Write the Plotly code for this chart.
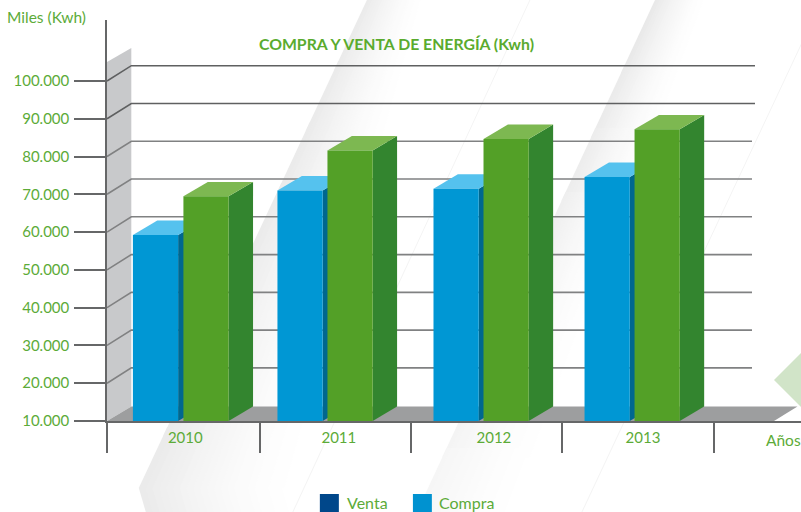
import plotly.graph_objects as go

# ---- data ----
years = ["2010", "2011", "2012", "2013"]
compra = [59230, 71010, 71490, 74580]
venta = [69480, 81600, 84640, 87210]
y_ticks = [10000, 20000, 30000, 40000, 50000, 60000, 70000, 80000, 90000, 100000]
grid_values = y_ticks[1:]

# ---- layout constants (x axis runs in canvas pixels) ----
W, H = 801, 512
AX_X, AX_Y, TOP = 107.2, 421, 20
PX_PER_UNIT = 37.78 / 10000
Y0 = 10000
Y_TOP = Y0 + (AX_Y - TOP) / PX_PER_UNIT
compra_x = [155.7, 300.2, 456.2, 607.2]
venta_x = [206.2, 350.2, 506.2, 657.2]
label_x = [185.5, 339, 494, 643]
tick_x = [107.2, 260, 411, 562, 714]
BAR_W = 45.2
DX = 24.4
DY = 14.4 / PX_PER_UNIT
GREEN = "#5cab38"
AXIS = "#666768"


def fx(p):
    return (p - AX_X) / (W - AX_X)


def fy(p):
    return (AX_Y - p) / (AX_Y - TOP)


def py(p):
    return Y0 + (AX_Y - p) / PX_PER_UNIT


def poly(pts):
    return "M" + "L".join(f"{a:.4f},{b:.4f}" for a, b in pts) + "Z"


shapes = []


def paper_poly(pts, color):
    shapes.append(dict(type="path", xref="paper", yref="paper", layer="below",
                       path=poly([(fx(a), fy(b)) for a, b in pts]),
                       fillcolor=color, line=dict(width=0)))


def data_poly(pts, color):
    shapes.append(dict(type="path", xref="x", yref="y", layer="below",
                       path=poly(pts), fillcolor=color, line=dict(width=0)))


def mix(level, base):
    v = round(255 - (255 - base) * level)
    return f"rgb({v},{v},{v})"


# background swooshes: grid of strips fading to white, across and along each band
def band(top_x, bot_x, y_bot, w_top, w_bot, base, end_level, n=22, m=8):
    for j in range(m):
        s0, s1 = j / m, (j + 1.15) / m
        s1 = min(s1, 1)
        along = 1 - (1 - end_level) * (j + 0.5) / m
        for i in range(n):
            t0, t1 = i / n, (i + 1.3) / n
            level = (1 - i / n) ** 1.5 * along
            if level < 0.02:
                continue

            def at(t, s):
                return (top_x + (bot_x - top_x) * s + t * (w_top + (w_bot - w_top) * s), y_bot * s)

            paper_poly([at(t0, s0), at(t1, s0), at(t1, s1), at(t0, s1)], mix(level, base))


band(367, 139, 488, 55, 150, 235, 1.0)
for i in range(22):
    t0, t1 = i / 22, (i + 1.3) / 22
    paper_poly([(139 + t0 * 150, 488), (139 + t1 * 150, 488),
                (146 + t1 * 150, 512), (146 + t0 * 150, 512)], mix((1 - i / 22) ** 1.5, 235))
band(655, 417, 512, 50, 100, 232, 0.35)
for a, b in [((530, 0), (293, 512)), ((822, 0), (582, 512))]:
    shapes.append(dict(type="line", xref="paper", yref="paper", layer="below",
                       x0=fx(a[0]), y0=fy(a[1]), x1=fx(b[0]), y1=fy(b[1]),
                       line=dict(color="#f4f4f4", width=1)))
paper_poly([(774, 380), (801, 353), (801, 407)], "#d1e4c8")

# back wall and floor
WALL = 131.5
data_poly([(AX_X, py(62)), (WALL, py(48)), (WALL, py(406.6)), (AX_X, py(AX_Y))], "#c8c9cb")
data_poly([(AX_X, py(AX_Y)), (WALL, py(406.6)), (797.5, py(406.6)), (774, py(AX_Y))], "#9d9e9f")

# perspective grid
for v in grid_values:
    back = v + 15.3 / PX_PER_UNIT
    dark = v >= 90000
    col = "#5f6061" if dark else "#808182"
    end = 755 if dark else 752
    shapes.append(dict(type="path", xref="x", yref="y", layer="below",
                       path=f"M{AX_X},{v}L{WALL},{back}L{end},{back}",
                       line=dict(color=col, width=1.6)))


# side and top faces, derived from the values
def box_faces(xs, vals, side, top):
    for x, v in zip(xs, vals):
        r = x + BAR_W / 2
        l = x - BAR_W / 2
        data_poly([(r, Y0), (r + DX, Y0 + DY), (r + DX, v + DY), (r, v)], side)
        data_poly([(l, v), (l + DX, v + DY), (r + DX, v + DY), (r, v)], top)


box_faces(compra_x, compra, "#00678f", "#55c2ee")
box_faces(venta_x, venta, "#33852f", "#7db851")

fig = go.Figure()
fig.add_bar(x=compra_x, y=compra, width=BAR_W, name="Compra",
            marker=dict(color="#0097d4", line=dict(width=0)), showlegend=False)
fig.add_bar(x=venta_x, y=venta, width=BAR_W, name="Venta",
            marker=dict(color="#53a027", line=dict(width=0)), showlegend=False)

# legend swatches
paper_poly([(320, 494), (339, 494), (339, 513), (320, 513)], "#00478a")
paper_poly([(413, 494), (432, 494), (432, 513), (413, 513)], "#0092d0")

FONT = "Lato"


def note(text, x, y, size=15, anchor="left"):
    return dict(text=text, xref="paper", yref="paper", x=fx(x), y=fy(y), showarrow=False,
                xanchor=anchor, yanchor="middle", font=dict(family=FONT, size=size, color=GREEN))


fig.update_layout(
    width=W, height=H, autosize=False,
    margin=dict(l=AX_X, r=0, t=TOP, b=H - AX_Y, pad=0),
    paper_bgcolor="white", plot_bgcolor="rgba(0,0,0,0)",
    barmode="overlay", separators=",.", showlegend=False,
    font=dict(family=FONT, size=15, color=GREEN),
    title=dict(text="<b>COMPRA Y VENTA DE ENERGÍA (Kwh)</b>", x=396.5 / W, xanchor="center",
               y=1 - 44 / H, yanchor="middle", font=dict(family=FONT, size=15.8, color="#5aab2e")),
    xaxis=dict(range=[AX_X, W], tickmode="array", tickvals=label_x, ticktext=years,
               ticks="outside", ticklen=2, tickcolor="rgba(0,0,0,0)", showgrid=False, zeroline=False,
               showline=True, linecolor=AXIS, linewidth=2, tickfont=dict(family=FONT, size=15, color=GREEN),
               minor=dict(tickmode="array", tickvals=tick_x, ticks="outside", ticklen=30,
                          tickwidth=1.5, tickcolor=AXIS, showgrid=False)),
    yaxis=dict(range=[Y0, Y_TOP], tickmode="array", tickvals=y_ticks, tickformat=",d",
               ticks="outside", ticklen=31, tickwidth=1.6, tickcolor=AXIS, showgrid=False, zeroline=False,
               showline=True, linecolor=AXIS, linewidth=1.5, ticklabelstandoff=2,
               tickfont=dict(family=FONT, size=15, color=GREEN)),
    shapes=shapes,
    annotations=[
        note("Miles (Kwh)", 5, 17, 15.5),
        note("Años", 764, 440, 15.5),
        note("Venta", 345, 503, 16),
        note("Compra", 437, 503, 16),
    ],
)

fig.write_html("out.html", config=dict(displayModeBar=False),
               post_script="document.body.style.margin='0';document.body.style.overflow='hidden';")
